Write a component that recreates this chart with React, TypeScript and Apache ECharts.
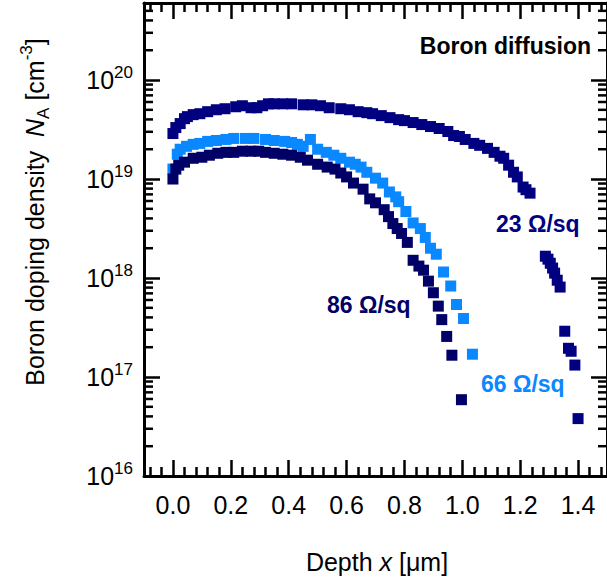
import React, { useEffect, useRef } from 'react';
import * as echarts from 'echarts';

// ---------- data ----------
const X_23 = [0.000, 0.010, 0.025, 0.040, 0.050, 0.070, 0.093, 0.120, 0.150, 0.180, 0.217, 0.240, 0.270, 0.290, 0.310, 0.330, 0.350, 0.380, 0.410, 0.450, 0.480, 0.510, 0.540, 0.580, 0.610, 0.640, 0.670, 0.690, 0.720, 0.750, 0.780, 0.800, 0.830, 0.860, 0.890, 0.920, 0.950, 0.970, 0.990, 1.010, 1.040, 1.060, 1.087, 1.110, 1.130, 1.143, 1.160, 1.177, 1.190, 1.210, 1.220, 1.234, 1.287, 1.296, 1.304, 1.312, 1.319, 1.328, 1.338, 1.354, 1.367, 1.376, 1.389, 1.400];
const Y_23 = [2.88e19, 3.31e19, 3.63e19, 4.07e19, 4.27e19, 4.47e19, 4.57e19, 4.79e19, 5.01e19, 5.13e19, 5.37e19, 5.50e19, 5.25e19, 5.25e19, 5.50e19, 5.75e19, 5.75e19, 5.75e19, 5.75e19, 5.62e19, 5.62e19, 5.50e19, 5.25e19, 5.13e19, 5.01e19, 4.79e19, 4.68e19, 4.57e19, 4.37e19, 4.17e19, 3.98e19, 3.89e19, 3.72e19, 3.55e19, 3.39e19, 3.24e19, 3.02e19, 2.75e19, 2.69e19, 2.51e19, 2.29e19, 2.19e19, 2.04e19, 1.86e19, 1.70e19, 1.62e19, 1.38e19, 1.17e19, 1.05e19, 8.3e18, 7.8e18, 7.2e18, 1.66e18, 1.55e18, 1.41e18, 1.26e18, 1.12e18, 9.5e17, 8.1e17, 2.9e17, 1.95e17, 1.82e17, 1.32e17, 3.8e16];

const X_86 = [0.000, 0.010, 0.020, 0.040, 0.070, 0.100, 0.126, 0.155, 0.183, 0.210, 0.240, 0.270, 0.296, 0.320, 0.350, 0.380, 0.410, 0.440, 0.465, 0.500, 0.533, 0.560, 0.580, 0.600, 0.624, 0.657, 0.680, 0.700, 0.730, 0.745, 0.760, 0.775, 0.790, 0.810, 0.830, 0.850, 0.866, 0.883, 0.900, 0.917, 0.929, 0.946, 0.964, 0.997];
const Y_86 = [1.00e19, 1.26e19, 1.38e19, 1.48e19, 1.62e19, 1.66e19, 1.74e19, 1.82e19, 1.86e19, 1.86e19, 1.91e19, 1.91e19, 1.91e19, 1.86e19, 1.82e19, 1.78e19, 1.74e19, 1.66e19, 1.55e19, 1.41e19, 1.32e19, 1.26e19, 1.15e19, 1.05e19, 9.1e18, 7.9e18, 6.3e18, 5.75e18, 4.9e18, 4.17e18, 3.55e18, 3.16e18, 2.82e18, 2.29e18, 1.51e18, 1.32e18, 1.20e18, 9.3e17, 7.1e17, 5.2e17, 3.8e17, 2.57e17, 1.66e17, 5.9e16];

const X_66 = [0.000, 0.015, 0.025, 0.047, 0.070, 0.093, 0.120, 0.150, 0.183, 0.210, 0.250, 0.280, 0.320, 0.350, 0.386, 0.410, 0.430, 0.450, 0.475, 0.500, 0.530, 0.556, 0.580, 0.610, 0.630, 0.650, 0.670, 0.700, 0.725, 0.748, 0.770, 0.780, 0.805, 0.830, 0.855, 0.872, 0.890, 0.910, 0.935, 0.960, 0.980, 1.004, 1.035];
const Y_66 = [1.26e19, 1.78e19, 2.00e19, 2.14e19, 2.24e19, 2.29e19, 2.40e19, 2.45e19, 2.51e19, 2.57e19, 2.57e19, 2.57e19, 2.51e19, 2.45e19, 2.40e19, 2.34e19, 2.24e19, 2.14e19, 2.51e19, 2.00e19, 1.86e19, 1.74e19, 1.62e19, 1.48e19, 1.41e19, 1.32e19, 1.17e19, 1.02e19, 9.1e18, 7.4e18, 6.6e18, 5.9e18, 4.7e18, 3.6e18, 3.16e18, 2.57e18, 2.00e18, 1.74e18, 1.15e18, 8.3e17, 5.4e17, 3.9e17, 1.7e17];

const SERIES_NAMES = ['66 Ω/sq', '86 Ω/sq', '23 Ω/sq'];
const X_MIN = -0.1;
const X_MAX = 1.5;
const Y_MIN = 1e16;
const Y_MAX = 6e20;
const MINOR_MANTISSAS = [2, 3, 4, 5, 6, 7, 8, 9];
const DECADES = [16, 17, 18, 19, 20];

const FONT = '"Liberation Sans", Arial, Helvetica, sans-serif';
const C23 = '#000080';
const C86 = '#000066';
const C66 = '#0a88ff';

const zip = (xs: number[], ys: number[]) => xs.map((x, i) => [x, ys[i]]);

const minorY: number[] = [];
DECADES.forEach((e) => MINOR_MANTISSAS.forEach((m) => {
  const v = m * Math.pow(10, e);
  if (v < Y_MAX * 0.999) minorY.push(v);
}));

const fmtX = (v: number) => {
  const r = Math.round(v * 10);
  if (r % 2 !== 0) return '';
  return (r / 10).toFixed(1);
};
const fmtY = (v: number) => {
  const e = Math.log10(v);
  const r = Math.round(e);
  if (Math.abs(e - r) > 1e-6) return '';
  return `{b|10}{s|${r}}`;
};

function buildOption() {
  const axisLine = { show: true, onZero: false, lineStyle: { color: '#000', width: 3 } };
  const axisTick = { show: true, inside: true, length: 16, lineStyle: { color: '#000', width: 2.5 } };
  const minorTick = { show: true, splitNumber: 5, length: 9, lineStyle: { color: '#000', width: 2.5 } };
  const xBase = {
    type: 'value', min: X_MIN, max: X_MAX, splitNumber: 8,
    axisLine, axisTick, minorTick,
    splitLine: { show: false }, minorSplitLine: { show: false },
  };
  const yBase = {
    type: 'log', logBase: 10, min: Y_MIN, max: Y_MAX,
    axisLine, axisTick,
    splitLine: { show: false },
  };
  const scatter = (name: string, xs: number[], ys: number[], color: string, z: number) => ({
    type: 'scatter', name, data: zip(xs, ys), symbol: 'rect', symbolSize: 11,
    itemStyle: { color, opacity: 1 }, z, silent: true,
  });
  const label = (text: string, x: number, y: number, color: string, align: string) => ({
    type: 'text', x, y,
    style: { text, fontSize: 23, fontWeight: 'bold', fontFamily: FONT, fill: color, align, verticalAlign: 'middle' },
  });
  return {
    animation: false,
    backgroundColor: '#ffffff',
    grid: { left: 144, top: 3, width: 472, height: 473 },
    xAxis: [
      {
        ...xBase, position: 'bottom',
        axisLabel: { show: true, margin: 16, fontSize: 25, color: '#000', fontFamily: FONT, formatter: fmtX, showMinLabel: false, showMaxLabel: false },
      },
      { ...xBase, position: 'top', axisLabel: { show: false } },
    ],
    yAxis: [
      {
        ...yBase, position: 'left',
        axisLabel: {
          show: true, margin: 11, color: '#000', formatter: fmtY, showMaxLabel: false,
          rich: {
            b: { fontSize: 25, fontFamily: FONT, color: '#000', lineHeight: 32 },
            s: { fontSize: 17, fontFamily: FONT, color: '#000', lineHeight: 17, verticalAlign: 'top' },
          },
        },
      },
      { ...yBase, position: 'right', axisLabel: { show: false } },
    ],
    series: [
      scatter(SERIES_NAMES[0], X_66, Y_66, C66, 2),
      scatter(SERIES_NAMES[1], X_86, Y_86, C86, 3),
      scatter(SERIES_NAMES[2], X_23, Y_23, C23, 4),
      {
        type: 'custom', name: 'minor ticks', silent: true, clip: false, z: 5,
        xAxisIndex: 0, yAxisIndex: 0,
        data: minorY.map((v) => [0, v]),
        renderItem: (params: any, api: any) => {
          const p = api.coord([0, api.value(1)]);
          const cs = params.coordSys;
          const st = { stroke: '#000', lineWidth: 2.5 };
          return {
            type: 'group',
            children: [
              { type: 'line', shape: { x1: cs.x, y1: p[1], x2: cs.x + 9, y2: p[1] }, style: st },
              { type: 'line', shape: { x1: cs.x + cs.width, y1: p[1], x2: cs.x + cs.width - 9, y2: p[1] }, style: st },
            ],
          };
        },
      },
    ],
    graphic: [
      {
        type: 'text', x: 35, y: 212, rotation: Math.PI / 2,
        style: {
          text: 'Boron doping density  {i|N}{sub|A} [cm{sup|-3}]',
          fontSize: 25, fontFamily: FONT, fill: '#000', align: 'center', verticalAlign: 'middle',
          rich: {
            i: { fontSize: 25, fontFamily: FONT, fontStyle: 'italic', fill: '#000', lineHeight: 34 },
            sub: { fontSize: 17, fontFamily: FONT, fill: '#000', lineHeight: 17, verticalAlign: 'bottom' },
            sup: { fontSize: 17, fontFamily: FONT, fill: '#000', lineHeight: 17, verticalAlign: 'top' },
          },
        },
      },
      {
        type: 'text', x: 377, y: 562,
        style: {
          text: 'Depth {i|x} [μm]',
          fontSize: 25, fontFamily: FONT, fill: '#000', align: 'center', verticalAlign: 'middle',
          rich: { i: { fontSize: 25, fontFamily: FONT, fontStyle: 'italic', fill: '#000' } },
        },
      },
      label('Boron diffusion', 591, 46, '#000', 'right'),
      label(SERIES_NAMES[2], 496, 224, C23, 'left'),
      label(SERIES_NAMES[1], 327, 305, C86, 'left'),
      label(SERIES_NAMES[0], 481, 384, C66, 'left'),
    ],
  };
}

export default function App() {
  const ref = useRef<HTMLDivElement>(null);
  useEffect(() => {
    if (!ref.current) return;
    const chart = echarts.init(ref.current, undefined, { renderer: 'svg' });
    chart.setOption(buildOption() as any);
    return () => chart.dispose();
  }, []);
  return (
    <div
      ref={ref}
      style={{ position: 'absolute', left: 0, top: 0, width: 607, height: 582, background: '#fff' }}
    />
  );
}
